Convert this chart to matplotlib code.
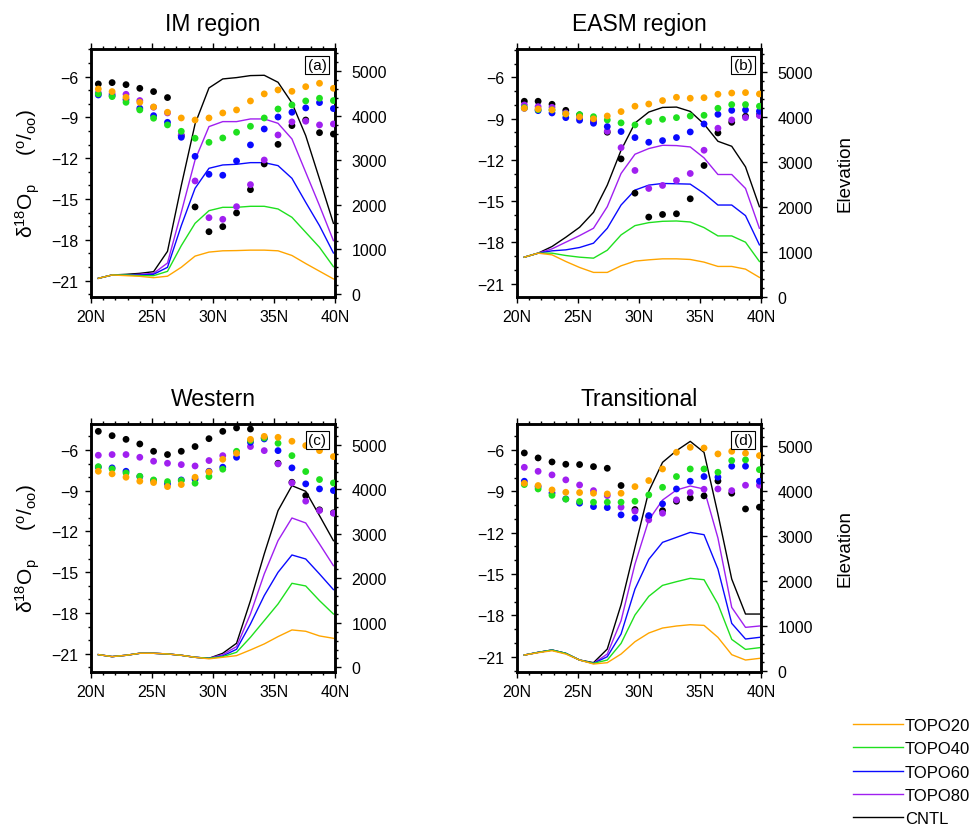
import numpy as np
import matplotlib
matplotlib.use('Agg')
import matplotlib.pyplot as plt
from matplotlib.ticker import MultipleLocator

plt.rcParams['font.family'] = ['Liberation Sans', 'DejaVu Sans']
plt.rcParams['mathtext.fontset'] = 'custom'
plt.rcParams['mathtext.rm'] = 'Liberation Sans'
plt.rcParams['mathtext.it'] = 'Liberation Sans'
plt.rcParams['mathtext.default'] = 'regular'

# latitude grid (18 points, 20.6N .. 39.9N)
lat = np.array([20.60, 21.73, 22.87, 24.00, 25.13, 26.27, 27.40, 28.53, 29.67,
                30.80, 31.93, 33.07, 34.20, 35.33, 36.47, 37.60, 38.73, 39.87])

runs = ['TOPO20', 'TOPO40', 'TOPO60', 'TOPO80', 'CNTL']
colors = {'TOPO20': '#ffa500', 'TOPO40': '#1fe01f', 'TOPO60': '#0a0aff',
          'TOPO80': '#a020f0', 'CNTL': 'black'}

titles = ['IM region', 'EASM region', 'Western', 'Transitional']
tags = ['(a)', '(b)', '(c)', '(d)']

# ---- delta18O of precipitation (dots) ----
d18o_a = {
    'CNTL':   [-6.54, -6.44, -6.59, -6.86, -7.10, -7.54, -10.34, -15.58, -17.40, -17.03, -16.02, -14.31, -12.42, -10.98, -9.60, -9.19, -10.12, -10.22],
    'TOPO20': [-6.91, -7.10, -7.52, -7.89, -8.23, -8.62, -9.04, -9.19, -9.04, -8.67, -8.45, -7.79, -7.27, -6.98, -7.08, -6.74, -6.49, -6.86],
    'TOPO40': [-7.27, -7.47, -7.89, -8.45, -9.06, -9.55, -10.02, -10.53, -10.83, -10.51, -10.09, -9.65, -9.04, -8.38, -8.08, -7.79, -7.59, -7.76],
    'TOPO60': [-7.35, -7.40, -7.69, -8.33, -8.87, -9.36, -10.46, -11.86, -13.18, -13.25, -12.20, -11.02, -9.85, -8.97, -8.62, -8.30, -7.91, -8.35],
    'TOPO80': [-7.20, -7.27, -7.30, -7.76, -8.25, -8.67, -10.29, -13.67, -16.37, -16.49, -15.56, -13.94, -12.13, -10.29, -9.33, -9.28, -9.55, -9.48],
}
d18o_b = {
    'CNTL':   [-7.74, -7.74, -7.96, -8.40, -8.73, -9.15, -9.99, -11.93, -14.42, -16.16, -15.97, -15.92, -14.83, -12.41, -10.04, -9.27, -8.83, -8.73],
    'TOPO20': [-8.25, -8.30, -8.37, -8.66, -8.88, -9.02, -8.81, -8.49, -8.10, -7.94, -7.69, -7.45, -7.52, -7.48, -7.23, -7.14, -7.11, -7.21],
    'TOPO40': [-8.20, -8.35, -8.37, -8.66, -8.71, -8.86, -9.10, -9.31, -9.46, -9.22, -9.05, -8.93, -8.81, -8.76, -8.25, -7.98, -7.98, -8.10],
    'TOPO60': [-8.25, -8.42, -8.59, -8.93, -9.12, -9.34, -9.58, -9.94, -10.38, -10.72, -10.60, -10.38, -9.97, -9.39, -8.69, -8.40, -8.37, -8.47],
    'TOPO80': [-8.01, -8.13, -8.18, -8.59, -8.98, -9.22, -9.92, -11.11, -12.77, -14.08, -13.86, -13.50, -12.99, -11.30, -9.70, -9.10, -8.93, -8.78],
}
d18o_c = {
    'CNTL':   [-4.63, -4.95, -5.22, -5.56, -6.10, -6.34, -6.10, -5.75, -5.17, -4.63, -4.38, -4.46, -5.12, -6.98, -8.38, -9.36, -10.41, -10.63],
    'TOPO20': [-7.57, -7.76, -8.01, -8.30, -8.40, -8.70, -8.55, -8.01, -7.62, -6.69, -6.25, -5.22, -5.00, -5.07, -5.36, -5.68, -6.05, -6.49],
    'TOPO40': [-7.23, -7.40, -7.69, -7.94, -8.21, -8.33, -8.25, -8.45, -7.96, -7.42, -6.10, -5.31, -5.12, -5.51, -6.42, -7.59, -8.18, -8.43],
    'TOPO60': [-7.27, -7.32, -7.57, -7.96, -8.25, -8.50, -8.21, -8.16, -7.57, -7.27, -6.54, -5.44, -5.19, -6.05, -7.32, -8.50, -8.87, -8.99],
    'TOPO80': [-6.39, -6.34, -6.34, -6.54, -6.83, -6.98, -7.08, -7.18, -6.78, -6.42, -6.17, -5.75, -6.05, -7.03, -8.43, -9.77, -10.46, -10.66],
}
d18o_d = {
    'CNTL':   [-6.22, -6.58, -6.87, -7.04, -7.06, -7.21, -7.33, -8.58, -10.32, -10.83, -10.40, -9.72, -9.48, -9.33, -8.25, -9.14, -10.28, -10.15],
    'TOPO20': [-8.42, -8.58, -8.90, -9.07, -9.09, -9.14, -9.19, -9.14, -8.66, -8.22, -7.38, -6.17, -5.81, -5.86, -6.29, -6.10, -6.24, -6.41],
    'TOPO40': [-8.51, -8.83, -9.29, -9.57, -9.74, -9.79, -9.79, -9.79, -9.72, -9.26, -8.71, -7.93, -7.38, -7.38, -7.62, -6.77, -6.72, -7.43],
    'TOPO60': [-8.27, -8.66, -9.12, -9.55, -9.86, -10.11, -10.18, -10.71, -10.95, -10.76, -9.91, -8.83, -8.27, -7.93, -7.98, -7.18, -7.18, -8.27],
    'TOPO80': [-7.26, -7.55, -7.81, -8.17, -8.54, -8.95, -9.31, -10.15, -10.44, -11.07, -10.59, -9.62, -9.09, -8.85, -8.83, -8.95, -8.56, -8.56],
}

# ---- elevation (lines) ----
elev_a = {
    'CNTL':   [352, 427, 442, 464, 501, 958, 2433, 3817, 4626, 4828, 4858, 4903, 4910, 4753, 4289, 3555, 2582, 1587],
    'TOPO80': [352, 427, 427, 442, 464, 696, 1834, 3010, 3758, 3870, 3870, 3930, 3930, 3832, 3481, 2732, 1984, 1198],
    'TOPO60': [352, 427, 427, 427, 442, 599, 1534, 2373, 2822, 2897, 2912, 2949, 2949, 2882, 2597, 2058, 1534, 921],
    'TOPO40': [352, 427, 427, 412, 412, 509, 1085, 1587, 1871, 1946, 1946, 1969, 1969, 1909, 1722, 1385, 1048, 614],
    'TOPO20': [352, 427, 412, 397, 367, 400, 600, 851, 941, 970, 975, 985, 985, 970, 865, 684, 512, 339],
}
elev_b = {
    'CNTL':   [886, 975, 1123, 1329, 1551, 1883, 2489, 3265, 3870, 4114, 4217, 4225, 4129, 3848, 3464, 3353, 2895, 2009],
    'TOPO80': [886, 975, 1071, 1219, 1366, 1529, 2009, 2748, 3176, 3302, 3375, 3368, 3338, 3095, 2725, 2725, 2415, 1529],
    'TOPO60': [886, 975, 1027, 1049, 1101, 1197, 1529, 2046, 2378, 2489, 2526, 2519, 2511, 2304, 2046, 2046, 1810, 1160],
    'TOPO40': [886, 975, 975, 923, 886, 864, 1041, 1381, 1588, 1654, 1684, 1691, 1669, 1544, 1359, 1359, 1219, 790],
    'TOPO20': [886, 975, 938, 790, 657, 547, 547, 694, 798, 827, 849, 849, 835, 776, 680, 680, 620, 436],
}
elev_c = {
    'CNTL':   [285, 240, 270, 315, 315, 300, 270, 225, 202, 315, 540, 1499, 2549, 3523, 4085, 3958, 3411, 2848],
    'TOPO80': [285, 240, 270, 315, 315, 300, 270, 225, 202, 285, 465, 1199, 2099, 2848, 3358, 3246, 2774, 2286],
    'TOPO60': [285, 240, 270, 315, 315, 300, 270, 225, 202, 255, 405, 974, 1612, 2136, 2526, 2436, 2099, 1747],
    'TOPO40': [285, 240, 270, 315, 315, 300, 270, 225, 202, 240, 337, 675, 1049, 1424, 1889, 1829, 1499, 1199],
    'TOPO20': [285, 240, 270, 315, 315, 300, 270, 225, 190, 225, 262, 390, 525, 690, 840, 810, 705, 652],
}
elev_d = {
    'CNTL':   [348, 407, 459, 385, 237, 178, 481, 1467, 2741, 3985, 4630, 4889, 5096, 4852, 3481, 2037, 1259, 1259],
    'TOPO80': [348, 407, 459, 385, 237, 163, 370, 1111, 2370, 3348, 3792, 4015, 4104, 4037, 2948, 1407, 963, 993],
    'TOPO60': [348, 407, 459, 385, 237, 163, 311, 815, 1815, 2474, 2852, 2963, 3074, 3022, 2259, 1052, 704, 741],
    'TOPO40': [348, 407, 459, 385, 237, 163, 237, 607, 1237, 1652, 1896, 1978, 2052, 2022, 1481, 696, 474, 511],
    'TOPO20': [348, 400, 444, 370, 237, 148, 178, 370, 644, 837, 948, 993, 1022, 1007, 741, 356, 237, 274],
}

d18o_all = [d18o_a, d18o_b, d18o_c, d18o_d]
elev_all = [elev_a, elev_b, elev_c, elev_d]

# axis ranges
ylim_left = [(-22.2, -3.97), (-21.97, -3.94), (-22.35, -4.09), (-22.1, -4.12)]
ylim_right = [(-67, 5500), (0, 5517), (-106, 5472), (-29, 5482)]

W, H = 974, 828
fig = plt.figure(figsize=(W / 100, H / 100), dpi=100)
boxes = [(91, 50), (517, 50), (91, 425), (517, 425)]

draw_order = ['CNTL', 'TOPO80', 'TOPO60', 'TOPO40', 'TOPO20']
handles = {}

for i in range(4):
    x0, y0 = boxes[i]
    ax = fig.add_axes([x0 / W, 1 - (y0 + 248) / H, 244 / W, 248 / H])
    axr = ax.twinx()
    ax.set_zorder(axr.get_zorder() + 1)
    ax.patch.set_visible(False)

    for r in draw_order:
        ln, = axr.plot(lat, elev_all[i][r], color=colors[r], lw=1.0)
        handles[r] = ln
    for r in draw_order:
        ax.scatter(lat, d18o_all[i][r], s=24, color=colors[r], edgecolors='none', zorder=3)

    ax.set_xlim(20, 40)
    ax.set_xticks([20, 25, 30, 35, 40])
    ax.set_xticklabels(['20N', '25N', '30N', '35N', '40N'])
    ax.xaxis.set_minor_locator(MultipleLocator(1))
    ax.set_ylim(*ylim_left[i])
    ax.yaxis.set_major_locator(MultipleLocator(3))
    ax.yaxis.set_minor_locator(MultipleLocator(1))
    axr.set_ylim(*ylim_right[i])
    axr.set_yticks([0, 1000, 2000, 3000, 4000, 5000])
    axr.yaxis.set_minor_locator(MultipleLocator(200))

    ax.tick_params(axis='x', which='major', top=True, direction='out', length=4, width=1, labelsize=11.5, pad=5)
    ax.tick_params(axis='x', which='minor', top=True, direction='out', length=2.2, width=1)
    ax.tick_params(axis='y', which='major', direction='out', length=4, width=1, labelsize=11.5, pad=5)
    ax.tick_params(axis='y', which='minor', direction='out', length=2.2, width=1)
    axr.tick_params(axis='y', which='major', direction='out', length=4, width=1, labelsize=11.5, pad=8)
    axr.tick_params(axis='y', which='minor', direction='out', length=2.2, width=1)
    for a in (ax, axr):
        for sp in a.spines.values():
            sp.set_linewidth(1.8)

    ax.set_title(titles[i], fontsize=16.5, pad=14)
    ax.text(0.965, 0.963, tags[i], transform=ax.transAxes, ha='right', va='top',
            fontsize=11, zorder=10,
            bbox=dict(boxstyle='square,pad=0.15', fc='white', ec='black', lw=0.8))

    if i in (0, 2):
        ax.set_ylabel(r'$\delta^{18}$O$_{p}$     ($^{o}$/$_{oo}$)', fontsize=15, labelpad=7)
    else:
        axr.set_ylabel('Elevation', fontsize=13.5, labelpad=17)

leg_order = ['TOPO20', 'TOPO40', 'TOPO60', 'TOPO80', 'CNTL']
fig.legend([handles[r] for r in leg_order], leg_order, loc='upper left',
           bbox_to_anchor=(853 / W, 1 - 719 / H), frameon=False, fontsize=12,
           handlelength=3.0, handletextpad=0.1, labelspacing=0.5,
           borderpad=0, borderaxespad=0)

plt.savefig('out.png', dpi=100)
plt.close()
